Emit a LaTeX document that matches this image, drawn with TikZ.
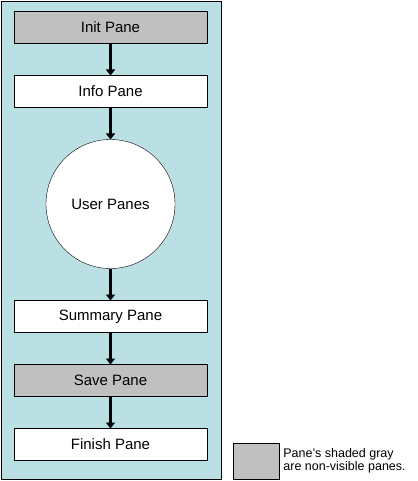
\documentclass[tikz,border=0pt]{standalone}
\usepackage{fontspec}
\setmainfont{Liberation Sans}
\usetikzlibrary{positioning,arrows.meta}
\definecolor{panelcyan}{RGB}{187,224,227}
\definecolor{panegray}{RGB}{192,192,192}

\begin{document}
\begin{tikzpicture}[x=1pt, y=-1pt, node distance={32pt},
        pane/.style = {draw, fill=white, minimum width=193pt, minimum height=32pt, inner sep=0pt, outer sep=0pt, font=\fontsize{15}{17}\selectfont},
        hidden/.style = {pane, fill=panegray},
        userpanes/.style = {draw, circle, fill=white, minimum size=129pt, inner sep=0pt, outer sep=0pt, font=\fontsize{15}{17}\selectfont},
        flow/.style = {line width=3.5pt, -{Triangle[width=9pt,length=6pt]}}]
        \useasboundingbox (0,0) rectangle (417,481);
        \draw[fill=panelcyan] (1,1) rectangle (221,479);

        \node[hidden] (init) at (110.5,27.5) {Init Pane};
        \node[pane] (info) [below=of init] {Info Pane};
        \node[userpanes] (user) [below=of info] {User Panes};
        \node[pane] (summary) [below=of user] {Summary Pane};
        \node[hidden] (save) [below=of summary] {Save Pane};
        \node[pane] (finish) [below=of save] {Finish Pane};

        \draw[flow] (init) -- (info);
        \draw[flow] (info) -- (user);
        \draw[flow] (user) -- (summary);
        \draw[flow] (summary) -- (save);
        \draw[flow] (save) -- (finish);

        % legend
        \node[draw, fill=panegray, minimum width=46pt, minimum height=36pt, inner sep=0pt] (key) at (256,461) {};
        \node[right=4pt of key, align=left, inner sep=0pt, font=\fontsize{12.5}{12.7}\selectfont] (keytext) {Pane's shaded gray\\are non-visible panes.};

    \end{tikzpicture}
\end{document}
